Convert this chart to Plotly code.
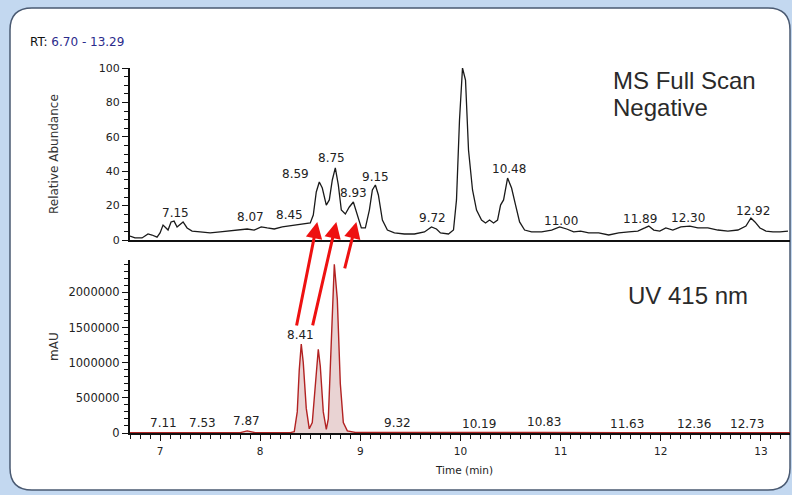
import plotly.graph_objects as go

# ---------------- data ----------------
ms_time = [6.70, 6.75, 6.82, 6.88, 6.92, 6.97, 7.00, 7.03, 7.06, 7.08, 7.11, 7.14, 7.17, 7.20, 7.23,
           7.27, 7.32, 7.40, 7.50, 7.60, 7.70, 7.79, 7.87, 7.94, 8.01, 8.07, 8.14, 8.22, 8.29, 8.37,
           8.45, 8.50, 8.53, 8.56, 8.59, 8.62, 8.66, 8.69, 8.72, 8.75, 8.78, 8.81, 8.85, 8.89, 8.93,
           8.97, 9.01, 9.05, 9.09, 9.12, 9.15, 9.18, 9.22, 9.27, 9.34, 9.44, 9.54, 9.64, 9.71, 9.76,
           9.80, 9.88, 9.93, 9.96, 9.99, 10.02, 10.05, 10.08, 10.12, 10.16, 10.21, 10.25, 10.29, 10.33,
           10.37, 10.40, 10.43, 10.47, 10.51, 10.55, 10.59, 10.64, 10.71, 10.81, 10.91, 10.99, 11.06,
           11.13, 11.20, 11.28, 11.38, 11.48, 11.58, 11.68, 11.77, 11.84, 11.88, 11.93, 11.99, 12.05,
           12.12, 12.20, 12.29, 12.37, 12.47, 12.57, 12.67, 12.77, 12.85, 12.90, 12.94, 12.99, 13.05,
           13.12, 13.19, 13.27]
ms_abund = [2.3, 1.2, 1.2, 3.5, 2.9, 1.7, 4.1, 8.7, 7.0, 5.8, 10.5, 11.0, 7.6, 9.3, 10.5,
            7.0, 5.2, 4.7, 4.1, 4.7, 5.2, 5.8, 6.4, 5.8, 7.6, 7.0, 6.4, 7.6, 8.1, 8.7,
            9.3, 9.9, 14.5, 27.9, 33.7, 30.2, 20.3, 23.3, 34.9, 41.9, 32.0, 17.4, 15.1, 19.2, 22.1,
            14.5, 7.0, 7.0, 17.4, 29.1, 32.0, 26.2, 11.6, 5.8, 4.1, 3.5, 3.5, 4.7, 7.6, 6.4,
            4.1, 3.5, 5.8, 23.3, 69.8, 100.0, 93.0, 52.3, 29.1, 17.4, 11.6, 9.9, 11.6, 9.9,
            11.6, 20.3, 23.3, 36.0, 30.2, 20.3, 10.5, 5.8, 4.7, 4.7, 5.8, 7.6, 6.4,
            4.7, 5.2, 4.1, 4.1, 2.9, 4.1, 4.7, 5.2, 7.0, 8.1, 5.8, 5.2, 7.0,
            5.8, 7.6, 8.1, 7.0, 7.0, 5.8, 5.2, 5.8, 8.1, 12.8, 10.5, 7.0, 5.2,
            4.7, 4.7, 5.2]

uv_time = [6.70, 7.11, 7.53, 7.80, 7.87, 7.95, 8.30, 8.34, 8.37, 8.39, 8.41, 8.43, 8.46, 8.49,
           8.52, 8.55, 8.58, 8.60, 8.63, 8.66, 8.68, 8.71, 8.74, 8.77, 8.80, 8.83, 8.87, 8.95,
           9.32, 10.19, 10.83, 11.63, 12.36, 12.73, 13.29]
uv_mau = [5000, 8000, 8000, 5000, 30000, 5000, 5000, 20000, 300000, 900000, 1264000, 1000000, 350000, 60000,
          150000, 700000, 1190000, 950000, 300000, 50000, 200000, 1300000, 2400000, 1900000, 700000, 150000, 30000, 8000,
          10000, 8000, 8000, 5000, 5000, 8000, 5000]

ms_label_rt = [7.15, 8.07, 8.45, 8.59, 8.75, 8.93, 9.15, 9.72, 10.02, 10.48, 11.00, 11.89, 12.30, 12.92]
uv_label_rt = [7.11, 7.53, 7.87, 8.41, 8.75, 9.32, 10.19, 10.83, 11.63, 12.36, 12.73]

x_ticks = [7, 8, 9, 10, 11, 12, 13]
ms_y_ticks = [0, 20, 40, 60, 80, 100]
uv_y_ticks = [0, 500000, 1000000, 1500000, 2000000]
rt_range = [6.70, 13.29]

# arrows: MS peak (head) fed from UV peak
arrow_head_rt = [8.57, 8.76, 8.96]

# ---------------- layout positions ----------------
ms_label_y = [15.7, 13.4, 14.5, 38.4, 47.7, 27.3, 36.6, 12.8, 105.2, 41.3, 11.0, 12.2, 12.8, 16.9]
ms_label_dx = [0, -17, -16, -24, -4, 0, 0, 0, -2, 0, 0, -10, -3, 0]
uv_label_y = [142000, 142000, 170000, 1392000, 2557000, 142000, 128000, 156000, 128000, 128000, 128000]
uv_label_dx = [-8, -11, -1, -1, -2, 5, -1, 0, 3, -3, 13]
arrow_tail_dx = [-21, -24, -12]
arrow_tail_dy = [105, 105, 48]

W, H = 792, 495
def px(x):
    return x / W
def py(y):
    return 1 - y / H

FONT = "DejaVu Sans"
TXT = "#222222"

fig = go.Figure()

fig.add_trace(go.Scatter(x=ms_time, y=ms_abund, mode="lines", xaxis="x", yaxis="y",
                         line=dict(color="#1a1a1a", width=1.3), hoverinfo="skip", showlegend=False))
fig.add_trace(go.Scatter(x=uv_time, y=uv_mau, mode="lines", xaxis="x2", yaxis="y2",
                         line=dict(color="#b22222", width=1.4), fill="tozeroy",
                         fillcolor="rgba(215,175,175,0.55)", hoverinfo="skip", showlegend=False))

axis_common = dict(showgrid=False, zeroline=False, showline=True, linecolor="#111111", linewidth=2,
                   automargin=False)

fig.update_layout(
    width=W, height=H,
    margin=dict(l=0, r=0, t=0, b=0),
    paper_bgcolor="#c3d8f0",
    plot_bgcolor="rgba(0,0,0,0)",
    xaxis=dict(domain=[px(130), px(790)], range=rt_range, anchor="y", showticklabels=False,
               ticks="", matches="x2", **axis_common),
    yaxis=dict(domain=[py(240), py(68)], range=[0, 100], anchor="x", tickvals=ms_y_ticks,
               ticks="outside", ticklen=6, tickwidth=1.3, tickcolor="#111111",
               tickfont=dict(family=FONT, size=11, color=TXT),
               minor=dict(ticks="outside", dtick=5, ticklen=4, tickwidth=1, tickcolor="#111111"),
               **axis_common),
    xaxis2=dict(domain=[px(130), px(790)], range=rt_range, anchor="y2", tickvals=x_ticks,
                ticks="outside", ticklen=6, tickwidth=1.3, tickcolor="#111111", ticklabelstandoff=1,
                tickfont=dict(family=FONT, size=10.5, color=TXT),
                minor=dict(ticks="outside", dtick=0.1, ticklen=4, tickwidth=1, tickcolor="#111111"),
                **axis_common),
    yaxis2=dict(domain=[py(433), py(260)], range=[0, 2460000], anchor="x2", tickvals=uv_y_ticks,
                tickformat="d", ticks="outside", ticklen=6, tickwidth=1.3, tickcolor="#111111",
                tickfont=dict(family=FONT, size=11.5, color=TXT),
                minor=dict(ticks="outside", dtick=100000, ticklen=4, tickwidth=1, tickcolor="#111111"),
                **axis_common),
)

# white rounded panel
x0, x1, y0, y1 = px(10), px(790), py(490), py(8)
rx, ry = 22 / W, 22 / H
path = (f"M {x0+rx},{y1} L {x1-rx},{y1} Q {x1},{y1} {x1},{y1-ry} L {x1},{y0+ry} "
        f"Q {x1},{y0} {x1-rx},{y0} L {x0+rx},{y0} Q {x0},{y0} {x0},{y0+ry} "
        f"L {x0},{y1-ry} Q {x0},{y1} {x0+rx},{y1} Z")
fig.add_shape(type="path", path=path, xref="paper", yref="paper", layer="below",
              fillcolor="white", line=dict(color="#4a5a72", width=1.5))

ann = []
for rt, yv, dx in zip(ms_label_rt, ms_label_y, ms_label_dx):
    ann.append(dict(x=rt, y=yv, xref="x", yref="y", text=f"{rt:.2f}", showarrow=False, xshift=dx,
                    font=dict(family=FONT, size=12, color=TXT)))
for rt, yv, dx in zip(uv_label_rt, uv_label_y, uv_label_dx):
    ann.append(dict(x=rt, y=yv, xref="x2", yref="y2", text=f"{rt:.2f}", showarrow=False, xshift=dx,
                    font=dict(family=FONT, size=12, color=TXT)))

# red arrows from UV peaks to MS peaks
for hx, tdx, tdy in zip(arrow_head_rt, arrow_tail_dx, arrow_tail_dy):
    ann.append(dict(x=hx, y=10.5, xref="x", yref="y", text="", showarrow=True,
                    ax=tdx, ay=tdy, axref="pixel", ayref="pixel",
                    arrowhead=2, arrowsize=1.1, arrowwidth=3, arrowcolor="#ee1111"))

def paper_text(x, y, text, size, family=FONT, color="#333333", xanchor="center", angle=0):
    return dict(x=px(x), y=py(y), xref="paper", yref="paper", xanchor=xanchor, yanchor="middle",
                text=text, textangle=angle, showarrow=False,
                font=dict(family=family, size=size, color=color))

ann += [
    paper_text(28, 42, "RT: <span style='color:#2b2b8c'>6.70 - 13.29</span>", 12,
               color="#111111", xanchor="left"),
    paper_text(54, 154, "Relative Abundance", 12, angle=-90),
    paper_text(54, 346, "mAU", 12, angle=-90),
    paper_text(464, 470, "Time (min)", 10.5, color="#222222"),
    paper_text(611, 80, "MS Full Scan", 24, family="Liberation Sans", color="#2a2a2a", xanchor="left"),
    paper_text(611, 107, "Negative", 24, family="Liberation Sans", color="#2a2a2a", xanchor="left"),
    paper_text(626, 295, "UV 415 nm", 24, family="Liberation Sans", color="#2a2a2a", xanchor="left"),
]
fig.update_layout(annotations=ann)

fig.write_html("out.html", config={"displayModeBar": False},
               post_script="document.body.style.margin='0px';")
